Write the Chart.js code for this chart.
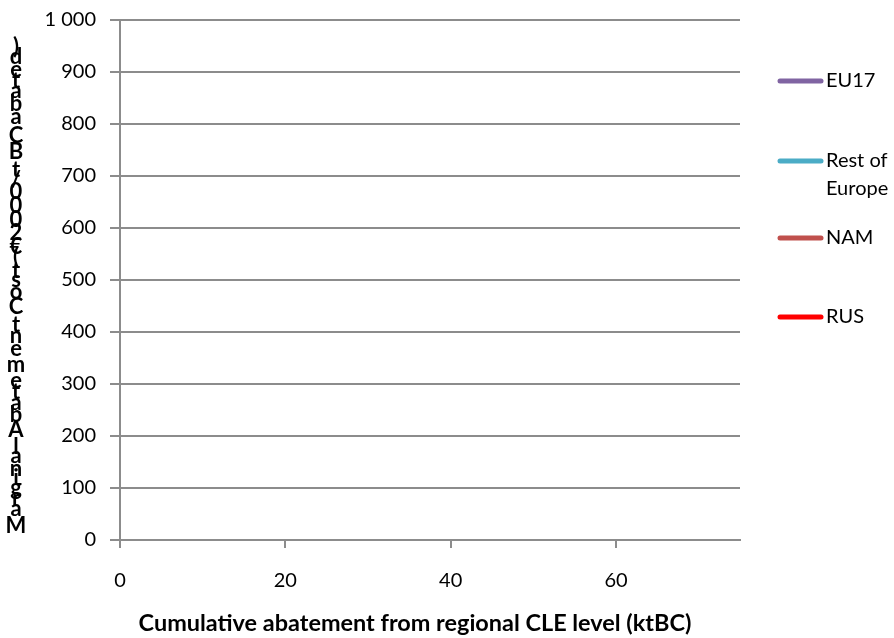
<!DOCTYPE html>
<html>
<head>
<meta charset="utf-8">
<script src="https://cdn.jsdelivr.net/npm/chart.js@4/dist/chart.umd.min.js"></script>
<style>
html,body{margin:0;padding:0;background:#fff;}
#wrap{width:894px;height:638px;position:relative;}
</style>
</head>
<body>
<div id="wrap"><canvas id="c" width="894" height="638"></canvas></div>
<script>
// ---- data (the reference plot area shows no drawn curves) ----
const seriesNames = ['EU17', 'Rest of Europe', 'NAM', 'RUS'];
const seriesColors = ['#8064A2', '#4BACC6', '#C0504D', '#FF0000'];
const eu17Abatement = [];
const eu17Cost = [];
const restEuropeAbatement = [];
const restEuropeCost = [];
const namAbatement = [];
const namCost = [];
const rusAbatement = [];
const rusCost = [];
const xTickValues = [0, 20, 40, 60];
const yTickValues = [0, 100, 200, 300, 400, 500, 600, 700, 800, 900, 1000];
const xTitle = 'Cumulative abatement from regional CLE level (ktBC)';
const yTitle = 'Marginal Abatement Cost (€2000/t BC abated)';

const xs = [eu17Abatement, restEuropeAbatement, namAbatement, rusAbatement];
const ys = [eu17Cost, restEuropeCost, namCost, rusCost];

const datasets = seriesNames.map((n, i) => ({
  label: n,
  data: xs[i].map((x, j) => ({x: x, y: ys[i][j]})),
  borderColor: seriesColors[i],
  backgroundColor: seriesColors[i],
  borderWidth: 3,
  pointRadius: 0,
  showLine: true,
  fill: false
}));

const GRID = '#8c8c8c';
const FONT = 'Lato';

const titlesAndLegend = {
  id: 'titlesAndLegend',
  afterDraw(chart) {
    const ctx = chart.ctx;
    ctx.save();
    ctx.fillStyle = '#000';
    // y title: upright glyphs stacked bottom-to-top by their advance widths
    ctx.font = 'bold 22px ' + FONT;
    ctx.textAlign = 'center';
    ctx.textBaseline = 'middle';
    const chars = Array.from(yTitle);
    const adv = chars.map(ch => ctx.measureText(ch).width);
    const total = adv.reduce((a, b) => a + b, 0);
    const yBottom = 537, yTop = 44;
    const k = (yBottom - yTop) / total;
    let cum = 0;
    chars.forEach((ch, i) => {
      const c = yBottom - (cum + adv[i] / 2) * k;
      ctx.fillText(ch, 16, c);
      cum += adv[i];
    });
    // x title, fitted to the reference's width
    ctx.font = 'bold 20px ' + FONT;
    const w20 = ctx.measureText(xTitle).width;
    const fs = 20 * 553 / w20;
    ctx.font = 'bold ' + fs.toFixed(2) + 'px ' + FONT;
    ctx.textAlign = 'center';
    ctx.fillText(xTitle, 415, 623);
    // legend
    const rows = [81, 161, 238, 317];
    ctx.font = '20px ' + FONT;
    ctx.textAlign = 'left';
    chart.data.datasets.forEach((ds, i) => {
      const y = rows[i];
      ctx.strokeStyle = ds.borderColor;
      ctx.lineWidth = 5;
      ctx.lineCap = 'round';
      ctx.beginPath();
      ctx.moveTo(780, y);
      ctx.lineTo(821, y);
      ctx.stroke();
      const words = ds.label.split(' ');
      const lines = [];
      let cur = '';
      words.forEach(w => {
        const t = cur ? cur + ' ' + w : w;
        if (ctx.measureText(t).width > 68 && cur) { lines.push(cur); cur = w; }
        else cur = t;
      });
      lines.push(cur);
      lines.forEach((l, j) => ctx.fillText(l, 826, y + j * 28));
    });
    ctx.restore();
  }
};

new Chart(document.getElementById('c'), {
  type: 'scatter',
  data: { datasets: datasets },
  options: {
    responsive: false,
    animation: false,
    layout: { padding: { top: 18, right: 154, left: 0, bottom: 0 } },
    plugins: { legend: { display: false }, tooltip: { enabled: false } },
    scales: {
      x: {
        type: 'linear',
        min: 0, max: 75,
        afterBuildTicks(s) { s.ticks = xTickValues.map(v => ({value: v})); },
        afterFit(s) { s.height = 98; },
        ticks: { color: '#000', font: { family: FONT, size: 20, lineHeight: 0.6 }, padding: 27, maxRotation: 0 },
        grid: { drawOnChartArea: false, drawTicks: true, tickLength: 8, color: GRID, lineWidth: 2 },
        border: { color: GRID, width: 2 }
      },
      y: {
        type: 'linear',
        min: 0, max: 1000,
        afterBuildTicks(s) { s.ticks = yTickValues.map(v => ({value: v})); },
        afterFit(s) { s.width = 120; },
        ticks: {
          color: '#000', font: { family: FONT, size: 20, lineHeight: 0.6 }, padding: 14,
          callback: v => String(v).replace(/\B(?=(\d{3})+(?!\d))/g, ' ')
        },
        grid: { drawTicks: true, tickLength: 10, color: GRID, lineWidth: 2 },
        border: { color: GRID, width: 2 }
      }
    }
  },
  plugins: [titlesAndLegend]
});
</script>
</body>
</html>
